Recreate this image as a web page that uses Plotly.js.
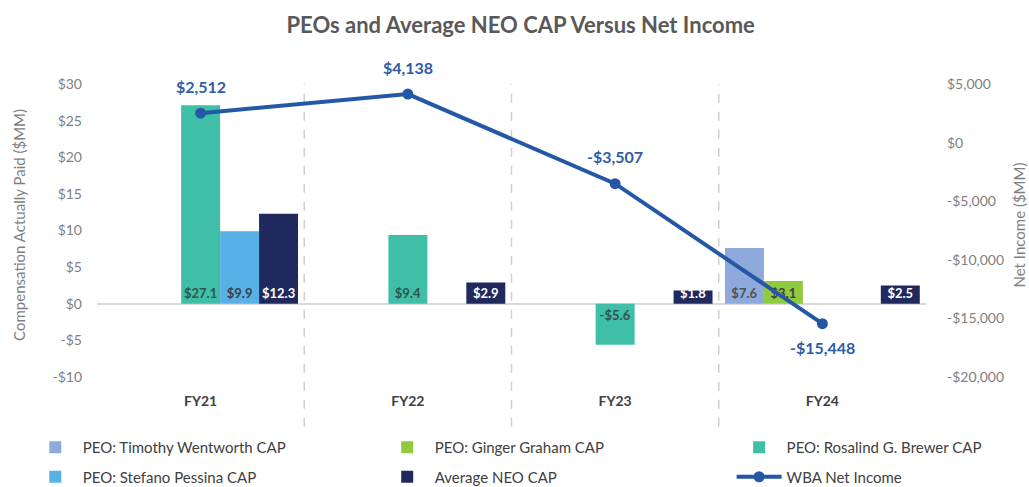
<!DOCTYPE html>
<html><head><meta charset="utf-8">
<script src="https://cdn.plot.ly/plotly-3.0.1.min.js"></script>
<style>html,body{margin:0;padding:0;background:#fff}</style>
</head><body><div id="chart" style="width:1029px;height:487px"></div>
<script>
// ---- data ----
const years = ['FY21', 'FY22', 'FY23', 'FY24'];
const timothyCAP = [null, null, null, 7.6];
const gingerCAP = [null, null, null, 3.1];
const rosalindCAP = [27.1, 9.4, -5.6, null];
const stefanoCAP = [9.9, null, null, null];
const avgNeoCAP = [12.3, 2.9, 1.8, 2.5];
const netIncome = [2512, 4138, -3507, -15448];
const netIncomeLabelSide = ['above', 'above', 'above', 'below'];
const leftTickVals = [-10, -5, 0, 5, 10, 15, 20, 25, 30];
const leftTickText = ['-$10', '-$5', '$0', '$5', '$10', '$15', '$20', '$25', '$30'];
const rightTickVals = [-20000, -15000, -10000, -5000, 0, 5000];
const rightTickText = ['-$20,000', '-$15,000', '-$10,000', '-$5,000', '$0', '$5,000'];
const leftAxisTitle = 'Compensation Actually Paid ($MM)';
const rightAxisTitle = 'Net Income ($MM)';

// ---- helpers ----
const FONT = 'Lato, "Open Sans", sans-serif';
function money1(v) { return v == null ? '' : (v < 0 ? '-$' : '$') + Math.abs(v).toFixed(1); }
function money0(v) { return (v < 0 ? '-$' : '$') + Math.abs(v).toLocaleString('en-US'); }

function barTrace(name, vals, color, textColor, legendId) {
  return {
    type: 'bar', name: name, x: years, y: vals, legend: legendId, legendgroup: name,
    marker: {color: color},
    text: vals.map(money1),
    textposition: 'inside', insidetextanchor: 'start', constraintext: 'none',
    textangle: 0, cliponaxis: false,
    textfont: {family: FONT, size: 13, color: textColor, weight: 'bold'},
    hoverinfo: 'x+y'
  };
}

const traces = [
  barTrace('PEO: Timothy Wentworth CAP', timothyCAP, '#8eaadc', '#505050', 'legend'),
  barTrace('PEO: Ginger Graham CAP', gingerCAP, '#8fcb3f', '#404040', 'legend2'),
  barTrace('PEO: Rosalind G. Brewer CAP', rosalindCAP, '#3fbfa7', '#2f5450', 'legend3'),
  barTrace('PEO: Stefano Pessina CAP', stefanoCAP, '#58b1e6', '#404040', 'legend'),
  barTrace('Average NEO CAP', avgNeoCAP, '#20295e', '#ffffff', 'legend2'),
  {
    type: 'scatter', mode: 'lines+markers', name: 'WBA Net Income',
    legend: 'legend3', legendgroup: 'WBA Net Income',
    x: years, y: netIncome, yaxis: 'y2',
    line: {color: '#2457a5', width: 4},
    marker: {color: '#2457a5', size: 11}
  }
];

const annotations = years.map((yr, i) => ({
  x: yr, y: netIncome[i], xref: 'x', yref: 'y2',
  text: money0(netIncome[i]), showarrow: false,
  yshift: netIncomeLabelSide[i] === 'above' ? 27 : -24,
  font: {family: FONT, size: 16, color: '#2e5ca6', weight: 'bold'}
}));
// axis titles (rotated)
annotations.push({
  xref: 'paper', yref: 'paper', x: -0.095, y: 0.52, xanchor: 'center', yanchor: 'middle',
  text: leftAxisTitle, textangle: -90, showarrow: false,
  font: {family: FONT, size: 15, color: '#7f7f7f'}
});
annotations.push({
  xref: 'paper', yref: 'paper', x: 1.112, y: 0.52, xanchor: 'center', yanchor: 'middle',
  text: rightAxisTitle, textangle: -90, showarrow: false,
  font: {family: FONT, size: 15, color: '#7f7f7f'}
});

const shapes = [0.5, 1.5, 2.5].map(b => ({
  type: 'line', xref: 'x', yref: 'paper', x0: b, x1: b, y0: -0.17, y1: 1,
  line: {color: '#cfcfcf', width: 1.5, dash: 'dash'}, layer: 'below'
}));

function legendAt(xFrac) {
  return {
    orientation: 'v', xref: 'container', yref: 'container',
    x: xFrac, xanchor: 'left', y: 0.115, yanchor: 'top',
    traceorder: 'grouped', tracegroupgap: 7, itemwidth: 45,
    font: {family: FONT, size: 15, color: '#404040'},
    bgcolor: 'rgba(0,0,0,0)'
  };
}

const layout = {
  width: 1029, height: 487,
  margin: {l: 97, r: 103, t: 84, b: 110, autoexpand: false},
  paper_bgcolor: '#ffffff', plot_bgcolor: '#ffffff',
  font: {family: FONT, color: '#404040'},
  title: {
    text: '<b>PEOs and Average NEO CAP Versus Net Income</b>',
    font: {family: FONT, size: 22, color: '#595959'},
    x: 0.506, xref: 'container', xanchor: 'center',
    y: 0.949, yref: 'container', yanchor: 'middle'
  },
  barmode: 'group', bargap: 0.06, bargroupgap: 0,
  xaxis: {
    type: 'category', showgrid: false, showline: false, ticks: '', zeroline: false,
    tickfont: {family: FONT, size: 14, color: '#404040', weight: 'bold'},
    ticklabelstandoff: 14, automargin: false, tickangle: 0
  },
  yaxis: {
    range: [-10, 30], tickvals: leftTickVals, ticktext: leftTickText,
    showgrid: false, showline: false, ticks: '',
    zeroline: true, zerolinecolor: '#d9d9d9', zerolinewidth: 2,
    tickfont: {family: FONT, size: 14, color: '#7f7f7f'},
    ticklabelstandoff: 14, automargin: false
  },
  yaxis2: {
    range: [-20000, 5000], tickvals: rightTickVals, ticktext: rightTickText,
    overlaying: 'y', side: 'right',
    showgrid: false, showline: false, ticks: '', zeroline: false,
    tickfont: {family: FONT, size: 14, color: '#7f7f7f'},
    ticklabelstandoff: 20, automargin: false
  },
  showlegend: true,
  legend: legendAt(0.027),
  legend2: legendAt(0.369),
  legend3: legendAt(0.711),
  annotations: annotations,
  shapes: shapes
};

Plotly.newPlot('chart', traces, layout, {displayModeBar: false, staticPlot: true});
</script>
</body></html>
